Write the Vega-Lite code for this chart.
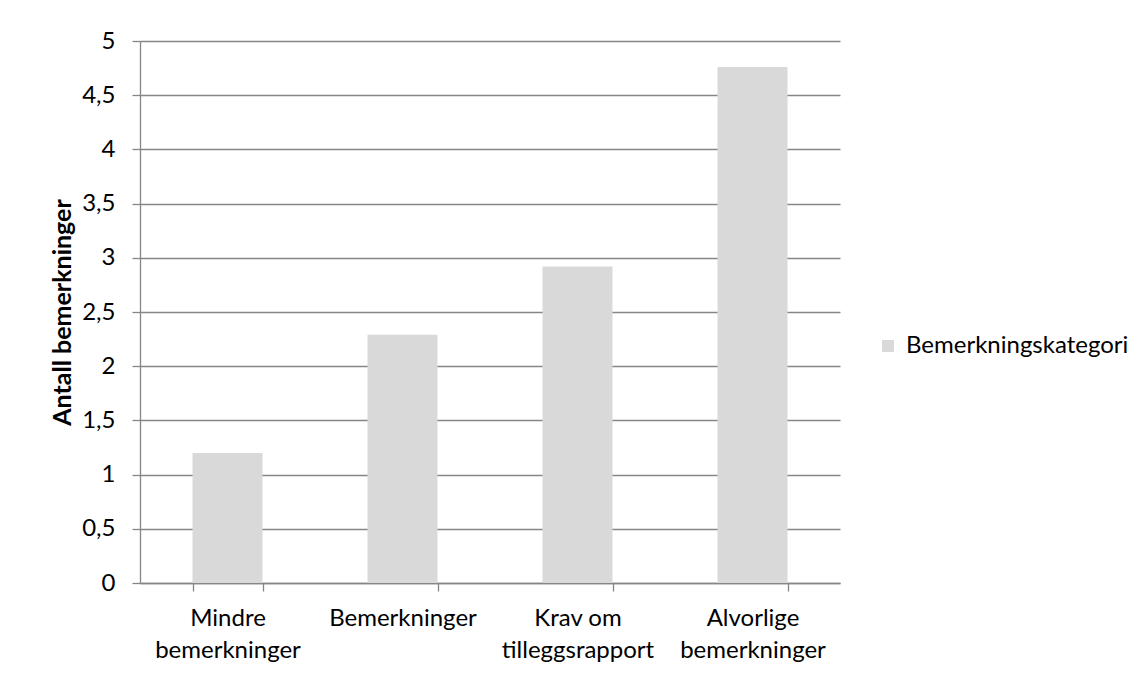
{
  "$schema": "https://vega.github.io/schema/vega-lite/v6.json",
  "width": 700,
  "height": 542,
  "autosize": {"type": "none"},
  "padding": {"left": 140, "top": 41, "right": 307, "bottom": 92},
  "background": "white",
  "config": {
    "font": "Lato",
    "view": {"stroke": null}
  },
  "data": {
    "values": [
      {"kategori": "Mindre\nbemerkninger", "antall": 1.2, "serie": "Bemerkningskategori"},
      {"kategori": "Bemerkninger", "antall": 2.29, "serie": "Bemerkningskategori"},
      {"kategori": "Krav om\ntilleggsrapport", "antall": 2.92, "serie": "Bemerkningskategori"},
      {"kategori": "Alvorlige\nbemerkninger", "antall": 4.76, "serie": "Bemerkningskategori"}
    ]
  },
  "mark": {"type": "bar"},
  "encoding": {
    "x": {
      "field": "kategori",
      "type": "nominal",
      "sort": null,
      "scale": {"paddingInner": 0.6, "paddingOuter": 0.3},
      "axis": {
        "title": null,
        "labelAngle": 0,
        "labelExpr": "split(datum.label, '\\n')",
        "labelFont": "Lato",
        "labelFontSize": 24,
        "labelColor": "#000000",
        "labelLineHeight": 32,
        "labelPadding": 15,
        "labelBaseline": "top",
        "labelLimit": 300,
        "tickBand": "extent",
        "tickSize": 8,
        "tickColor": "#868686",
        "tickWidth": 1.3,
        "domainColor": "#868686",
        "domainWidth": 1.3,
        "grid": false
      }
    },
    "y": {
      "field": "antall",
      "type": "quantitative",
      "scale": {"domain": [0, 5], "nice": false},
      "axis": {
        "title": "Antall bemerkninger",
        "titleFont": "Lato",
        "titleFontSize": 25,
        "titleFontWeight": "bold",
        "titleColor": "#000000",
        "titlePadding": 6,
        "values": [0, 0.5, 1, 1.5, 2, 2.5, 3, 3.5, 4, 4.5, 5],
        "labelExpr": "replace(toString(datum.value), '.', ',')",
        "labelFont": "Lato",
        "labelFontSize": 24,
        "labelColor": "#000000",
        "labelPadding": 17,
        "tickSize": 8,
        "tickColor": "#868686",
        "tickWidth": 1.3,
        "domainColor": "#868686",
        "domainWidth": 1.3,
        "grid": true,
        "gridColor": "#868686",
        "gridWidth": 1.3,
        "gridOpacity": 1
      }
    },
    "color": {
      "field": "serie",
      "type": "nominal",
      "scale": {"range": ["#d9d9d9"]},
      "legend": {
        "title": null,
        "orient": "none",
        "legendX": 736,
        "legendY": 293,
        "symbolType": "square",
        "symbolSize": 144,
        "symbolStrokeWidth": 0,
        "symbolOpacity": 1,
        "labelFont": "Lato",
        "labelFontSize": 24,
        "labelColor": "#000000",
        "labelOffset": 6,
        "labelLimit": 400
      }
    }
  }
}
